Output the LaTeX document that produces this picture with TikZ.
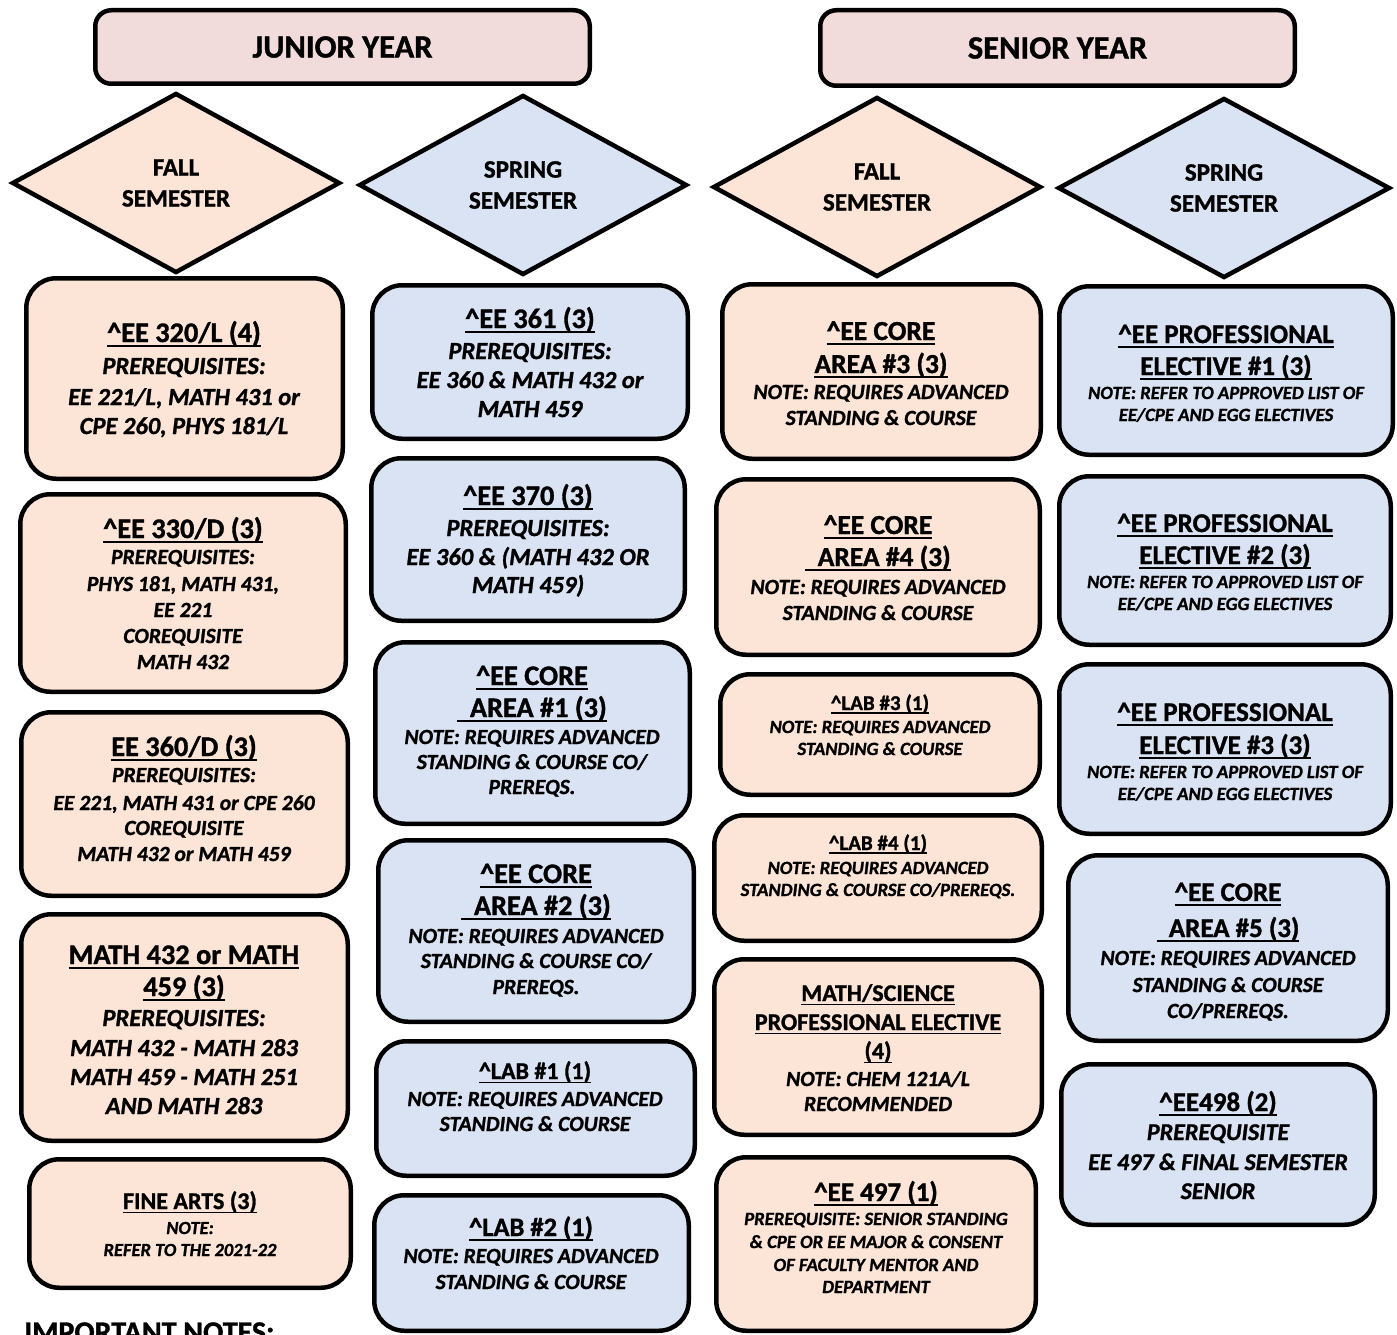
\documentclass[tikz,border=0pt]{standalone}
\usepackage{fontspec}
\setmainfont{Carlito}[BoldFeatures={FakeBold=1.2},BoldItalicFeatures={FakeBold=1.2}]
\usetikzlibrary{shapes.geometric}
\definecolor{hdrpink}{HTML}{F2DCDB}
\definecolor{peach}{HTML}{FCE4D6}
\definecolor{lblue}{HTML}{DAE3F3}
\newcommand\ulx[1]{\leavevmode\setbox0=\hbox{#1}\rlap{\rule[-0.17em]{\wd0}{0.065em}}\box0}
\newcommand\crt{\textasciicircum}
\newcommand\cbox[6]{%
  \pgfmathsetmacro\bxc{(#3+#5)/2}\pgfmathsetmacro\byc{(#4+#6)/2}%
  \pgfmathsetmacro\bxw{#5-#3-4.5}\pgfmathsetmacro\bxh{#6-#4-4.5}%
  \node[#2, minimum width=\bxw pt, minimum height=\bxh pt] (#1) at (\bxc,\byc) {};}
\newcommand\tln[5]{\node[#4,anchor=base,inner sep=0pt] (#1) at (#2,#3) {#5};}
\tikzset{
  cbx/.style={draw=black, line width=4.5pt, rounded corners=30pt, inner sep=0pt},
  fallbox/.style={cbx, fill=peach},
  sprbox/.style={cbx, fill=lblue},
  hdrbox/.style={draw=black, line width=4.5pt, rounded corners=16pt, fill=hdrpink, inner sep=0pt},
  hdrtxt/.style={font=\fontsize{32.5}{32.5}\selectfont\bfseries},
  dia/.style={diamond, draw=black, line width=4.5pt, inner sep=0pt, align=center,
     minimum width=328pt, minimum height=180pt, font=\fontsize{25}{31}\selectfont\bfseries},
  tt/.style={font=\fontsize{#1}{#1}\selectfont\bfseries},
  bd/.style={font=\fontsize{#1}{#1}\selectfont\bfseries\itshape},
}
\begin{document}
\begin{tikzpicture}[x=1pt,y=-1pt]
\useasboundingbox[fill=white] (0,0) rectangle (1397,1335);
% headers
\cbox{junior}{hdrbox}{93}{8}{592}{86}
\node[hdrtxt] (juniort) at (junior.center) {JUNIOR YEAR};
\cbox{senior}{hdrbox}{818}{8}{1297}{88}
\node[hdrtxt] (seniort) at (senior.center) {SENIOR YEAR};
% diamonds
\node[dia, fill=peach] (jfall) at (176,183) {FALL\\SEMESTER};
\node[dia, fill=lblue] (jspr) at (523,185) {SPRING\\SEMESTER};
\node[dia, fill=peach] (sfall) at (877,187) {FALL\\SEMESTER};
\node[dia, fill=lblue, minimum width=332pt] (sspr) at (1224,188) {SPRING\\SEMESTER};

% ---------- column 1 ----------
\cbox{a1}{fallbox}{24}{276}{345}{481}
\tln{a1t}{184}{342}{tt=28.3}{\ulx{\crt EE 320/L (4)}}
\tln{a1b}{184}{374}{bd=24.5}{PREREQUISITES:}
\tln{a1c}{184}{405}{bd=24.5}{EE 221/L, MATH 431 or}
\tln{a1d}{184}{434}{bd=24.5}{CPE 260, PHYS 181/L}

\cbox{a2}{fallbox}{18}{492}{348}{694}
\tln{a2t}{183}{538}{tt=28.3}{\ulx{\crt EE 330/D (3)}}
\tln{a2b}{183}{564}{bd=21.6}{PREREQUISITES:}
\tln{a2c}{183}{591}{bd=21.6}{PHYS 181, MATH 431,}
\tln{a2d}{183}{617}{bd=21.6}{EE 221}
\tln{a2e}{183}{643}{bd=21.6}{COREQUISITE}
\tln{a2f}{183}{669}{bd=21.6}{MATH 432}

\cbox{a3}{fallbox}{19}{710}{350}{898}
\tln{a3t}{184}{756}{tt=28.3}{\ulx{EE 360/D (3)}}
\tln{a3b}{184}{782}{bd=21.6}{PREREQUISITES:}
\tln{a3c}{184}{810}{bd=21.6}{EE 221, MATH 431 or CPE 260}
\tln{a3d}{184}{835}{bd=21.6}{COREQUISITE}
\tln{a3e}{184}{861}{bd=21.6}{MATH 432 or MATH 459}

\cbox{a4}{fallbox}{19}{912}{350}{1143}
\tln{a4t}{184}{964}{tt=28.3}{\ulx{MATH 432 or MATH}}
\tln{a4u}{184}{996}{tt=28.3}{\ulx{459 (3)}}
\tln{a4b}{184}{1026}{bd=24.5}{PREREQUISITES:}
\tln{a4c}{184}{1056}{bd=24.5}{MATH 432 - MATH 283}
\tln{a4d}{184}{1085}{bd=24.5}{MATH 459 - MATH 251}
\tln{a4e}{184}{1114}{bd=24.5}{AND MATH 283}

\cbox{a5}{fallbox}{27}{1157}{353}{1290}
\tln{a5t}{190}{1209}{tt=24}{\ulx{FINE ARTS (3)}}
\tln{a5b}{190}{1234}{bd=18.5}{NOTE:}
\tln{a5c}{190}{1256}{bd=18.5}{REFER TO THE 2021-22}

\node[font=\fontsize{30}{30}\selectfont\bfseries, anchor=base west, inner sep=0pt] (notes) at (24,1342) {IMPORTANT NOTES:};

% ---------- column 2 ----------
\cbox{b1}{sprbox}{370}{283}{690}{441}
\tln{b1t}{530}{328}{tt=28.3}{\ulx{\crt EE 361 (3)}}
\tln{b1b}{530}{359}{bd=24.5}{PREREQUISITES:}
\tln{b1c}{530}{388}{bd=24.5}{EE 360 \& MATH 432 or}
\tln{b1d}{530}{417}{bd=24.5}{MATH 459}

\cbox{b2}{sprbox}{369}{456}{687}{623}
\tln{b2t}{528}{505}{tt=28.3}{\ulx{\crt EE 370 (3)}}
\tln{b2b}{528}{536}{bd=24.5}{PREREQUISITES:}
\tln{b2c}{528}{565}{bd=24.5}{EE 360 \& (MATH 432 OR}
\tln{b2d}{528}{593}{bd=24.5}{MATH 459)}

\cbox{b3}{sprbox}{373}{640}{692}{826}
\tln{b3t}{532}{685}{tt=28.3}{\ulx{\crt EE CORE}}
\tln{b3u}{532}{717}{tt=28.3}{\ulx{\ \ AREA \#1 (3)}}
\tln{b3b}{532}{744}{bd=21.6}{NOTE: REQUIRES ADVANCED}
\tln{b3c}{532}{769}{bd=21.6}{STANDING \& COURSE CO/}
\tln{b3d}{532}{794}{bd=21.6}{PREREQS.}

\cbox{b4}{sprbox}{376}{838}{696}{1024}
\tln{b4t}{536}{883}{tt=28.3}{\ulx{\crt EE CORE}}
\tln{b4u}{536}{915}{tt=28.3}{\ulx{\ \ AREA \#2 (3)}}
\tln{b4b}{536}{943}{bd=21.6}{NOTE: REQUIRES ADVANCED}
\tln{b4c}{536}{968}{bd=21.6}{STANDING \& COURSE CO/}
\tln{b4d}{536}{994}{bd=21.6}{PREREQS.}

\cbox{b5}{sprbox}{374}{1039}{697}{1178}
\tln{b5t}{535}{1079}{tt=24}{\ulx{\crt LAB \#1 (1)}}
\tln{b5b}{535}{1106}{bd=21.6}{NOTE: REQUIRES ADVANCED}
\tln{b5c}{535}{1131}{bd=21.6}{STANDING \& COURSE}

\cbox{b6}{sprbox}{372}{1193}{691}{1333}
\tln{b6t}{531}{1236}{tt=26.5}{\ulx{\crt LAB \#2 (1)}}
\tln{b6b}{531}{1263}{bd=21.6}{NOTE: REQUIRES ADVANCED}
\tln{b6c}{531}{1289}{bd=21.6}{STANDING \& COURSE}

% ---------- column 3 ----------
\cbox{c1}{fallbox}{720}{282}{1043}{461}
\tln{c1t}{881}{340}{tt=27.5}{\ulx{\crt EE CORE}}
\tln{c1u}{881}{373}{tt=27.5}{\ulx{AREA \#3 (3)}}
\tln{c1b}{881}{399}{bd=21.6}{NOTE: REQUIRES ADVANCED}
\tln{c1c}{881}{425}{bd=21.6}{STANDING \& COURSE}

\cbox{c2}{fallbox}{714}{477}{1042}{657}
\tln{c2t}{878}{534}{tt=27.5}{\ulx{\crt EE CORE}}
\tln{c2u}{878}{566}{tt=27.5}{\ulx{\ \ AREA \#4 (3)}}
\tln{c2b}{878}{594}{bd=21.6}{NOTE: REQUIRES ADVANCED}
\tln{c2c}{878}{620}{bd=21.6}{STANDING \& COURSE}

\cbox{c3}{fallbox}{718}{672}{1042}{797}
\tln{c3t}{880}{710}{tt=21}{\ulx{\crt LAB \#3 (1)}}
\tln{c3b}{880}{733}{bd=18.7}{NOTE: REQUIRES ADVANCED}
\tln{c3c}{880}{755}{bd=18.7}{STANDING \& COURSE}

\cbox{c4}{fallbox}{712}{813}{1044}{943}
\tln{c4t}{878}{850}{tt=21}{\ulx{\crt LAB \#4 (1)}}
\tln{c4b}{878}{874}{bd=18.7}{NOTE: REQUIRES ADVANCED}
\tln{c4c}{878}{896}{bd=18.7}{STANDING \& COURSE CO/PREREQS.}

\cbox{c5}{fallbox}{712}{957}{1044}{1137}
\tln{c5t}{878}{1001}{tt=24}{\ulx{MATH/SCIENCE}}
\tln{c5u}{878}{1030}{tt=24}{\ulx{PROFESSIONAL ELECTIVE}}
\tln{c5v}{878}{1059}{tt=24}{\ulx{(4)}}
\tln{c5b}{878}{1086}{bd=21.6}{NOTE: CHEM 121A/L}
\tln{c5c}{878}{1111}{bd=21.6}{RECOMMENDED}

\cbox{c6}{fallbox}{714}{1155}{1038}{1333}
\tln{c6t}{876}{1201}{tt=27}{\ulx{\crt EE 497 (1)}}
\tln{c6b}{876}{1225}{bd=18.7}{PREREQUISITE: SENIOR STANDING}
\tln{c6c}{876}{1248}{bd=18.7}{\& CPE OR EE MAJOR \& CONSENT}
\tln{c6d}{876}{1271}{bd=18.7}{OF FACULTY MENTOR AND}
\tln{c6e}{876}{1293}{bd=18.7}{DEPARTMENT}

% ---------- column 4 ----------
\cbox{d1}{sprbox}{1057}{284}{1395}{457}
\tln{d1t}{1226}{343}{tt=27}{\ulx{\crt EE PROFESSIONAL}}
\tln{d1u}{1226}{375}{tt=27}{\ulx{ELECTIVE \#1 (3)}}
\tln{d1b}{1226}{399}{bd=18.7}{NOTE: REFER TO APPROVED LIST OF}
\tln{d1c}{1226}{421}{bd=18.7}{EE/CPE AND EGG ELECTIVES}

\cbox{d2}{sprbox}{1057}{474}{1393}{647}
\tln{d2t}{1225}{532}{tt=27}{\ulx{\crt EE PROFESSIONAL}}
\tln{d2u}{1225}{564}{tt=27}{\ulx{ELECTIVE \#2 (3)}}
\tln{d2b}{1225}{588}{bd=18.7}{NOTE: REFER TO APPROVED LIST OF}
\tln{d2c}{1225}{610}{bd=18.7}{EE/CPE AND EGG ELECTIVES}

\cbox{d3}{sprbox}{1057}{662}{1393}{836}
\tln{d3t}{1225}{721}{tt=27}{\ulx{\crt EE PROFESSIONAL}}
\tln{d3u}{1225}{754}{tt=27}{\ulx{ELECTIVE \#3 (3)}}
\tln{d3b}{1225}{778}{bd=18.7}{NOTE: REFER TO APPROVED LIST OF}
\tln{d3c}{1225}{800}{bd=18.7}{EE/CPE AND EGG ELECTIVES}

\cbox{d4}{sprbox}{1066}{853}{1390}{1043}
\tln{d4t}{1228}{901}{tt=27}{\ulx{\crt EE CORE}}
\tln{d4u}{1228}{937}{tt=27}{\ulx{\ \ AREA \#5 (3)}}
\tln{d4b}{1228}{965}{bd=21.6}{NOTE: REQUIRES ADVANCED}
\tln{d4c}{1228}{992}{bd=21.6}{STANDING \& COURSE}
\tln{d4d}{1228}{1018}{bd=21.6}{CO/PREREQS.}

\cbox{d5}{sprbox}{1059}{1062}{1377}{1227}
\tln{d5t}{1218}{1111}{tt=27}{\ulx{\crt EE498 (2)}}
\tln{d5b}{1218}{1140}{bd=24}{PREREQUISITE}
\tln{d5c}{1218}{1170}{bd=24}{EE 497 \& FINAL SEMESTER}
\tln{d5d}{1218}{1199}{bd=24}{SENIOR}
\end{tikzpicture}
\end{document}
